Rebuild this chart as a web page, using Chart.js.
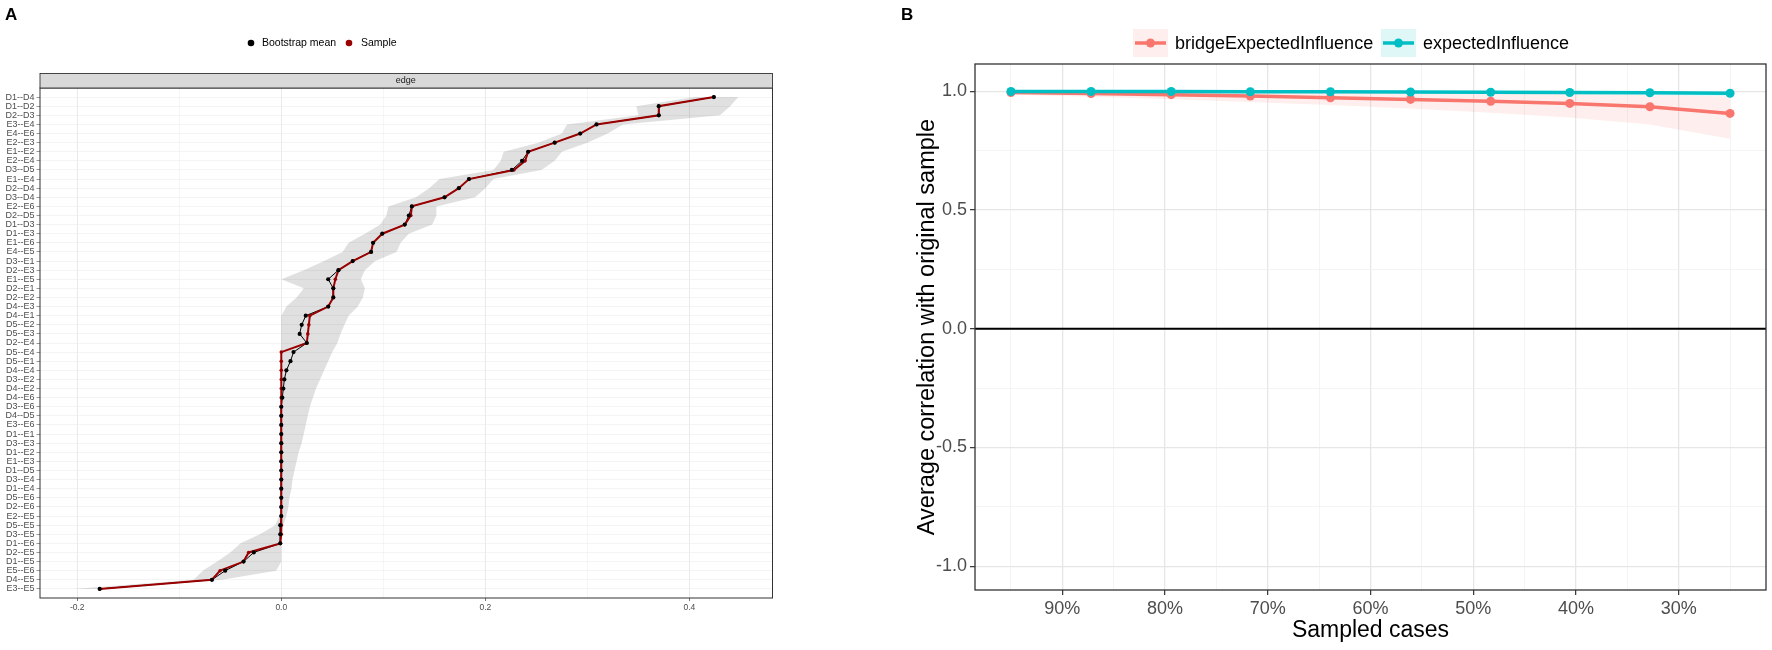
<!DOCTYPE html>
<html><head><meta charset="utf-8">
<script src="https://cdn.jsdelivr.net/npm/chart.js@4.4.1/dist/chart.umd.min.js"></script>
<style>
html,body{margin:0;padding:0;background:#fff;}
#wrap{position:relative;width:1772px;height:650px;overflow:hidden;background:#fff;}
#cA{position:absolute;left:0;top:0;}
#cB{position:absolute;left:880px;top:0;}
</style></head><body>
<div id="wrap">
<canvas id="cA" width="800" height="650"></canvas>
<canvas id="cB" width="892" height="650"></canvas>
</div>
<script>
// ---------- Panel A data ----------
const edges = ['D1--D4','D1--D2','D2--D3','E3--E4','E4--E6','E2--E3','E1--E2','E2--E4','D3--D5','E1--E4',
 'D2--D4','D3--D4','E2--E6','D2--D5','D1--D3','D1--E3','E1--E6','E4--E5','D3--E1','D2--E3',
 'E1--E5','D2--E1','D2--E2','D4--E3','D4--E1','D5--E2','D5--E3','D2--E4','D5--E4','D5--E1',
 'D4--E4','D3--E2','D4--E2','D4--E6','D3--E6','D4--D5','E3--E6','D1--E1','D3--E3','D1--E2',
 'E1--E3','D1--D5','D3--E4','D1--E4','D5--E6','D2--E6','E2--E5','D5--E5','D3--E5','D1--E6',
 'D2--E5','D1--E5','E5--E6','D4--E5','E3--E5'];
const sampleVals = [0.424,0.370,0.370,0.309,0.293,0.268,0.242,0.239,0.228,0.184,
 0.174,0.160,0.128,0.127,0.121,0.099,0.090,0.088,0.070,0.056,
 0.053,0.051,0.051,0.046,0.028,0.027,0.026,0.025,0,0,
 0,0,0,0,0,0,0,0,0,0,
 0,0,0,0,0,0,0,0,0,-0.001,
 -0.032,-0.037,-0.060,-0.068,-0.178];
const bootMean = [0.424,0.370,0.370,0.309,0.293,0.268,0.242,0.236,0.226,0.184,
 0.174,0.160,0.128,0.125,0.121,0.099,0.090,0.088,0.070,0.056,
 0.046,0.051,0.051,0.046,0.024,0.020,0.018,0.025,0.012,0.009,
 0.005,0.003,0.002,0.001,0,0,0,0,0,0,
 0,0,0,0,0,0,0,-0.001,-0.001,-0.001,
 -0.027,-0.037,-0.055,-0.068,-0.178];
const ciLower = [0.405,0.348,0.350,0.280,0.275,0.252,0.218,0.215,0.208,0.155,
 0.145,0.132,0.105,0.103,0.097,0.082,0.066,0.060,0.042,0.022,
 0.000,0.022,0.015,0.005,0,0,0,0,0,0,
 0,0,0,0,0,0,0,0,0,0,
 0,0,0,0,0,0,-0.002,-0.006,-0.021,-0.040,
 -0.050,-0.063,-0.077,-0.086,-0.204];
const ciUpper = [0.448,0.440,0.430,0.335,0.320,0.300,0.275,0.268,0.255,0.208,
 0.200,0.190,0.152,0.152,0.148,0.125,0.117,0.113,0.092,0.082,
 0.078,0.082,0.080,0.075,0.066,0.062,0.058,0.055,0.050,0.046,
 0.042,0.038,0.034,0.031,0.028,0.026,0.024,0.022,0.020,0.017,
 0.015,0.013,0.011,0.010,0.008,0.007,0.005,0.002,0,0,
 0,0,-0.005,-0.058,-0.170];
const edgeTickVals = [-0.2,-0.1,0,0.1,0.2,0.3,0.4];
const edgeTickLabels = ['-0.2','','0.0','','0.2','','0.4'];

// ---------- Panel B data ----------
const sampledPct = [95,87.2,79.4,71.7,63.9,56.1,48.3,40.6,32.8,25];
const bridgeEI   = [0.995,0.991,0.986,0.980,0.973,0.966,0.958,0.949,0.935,0.907];
const bridgeLo   = [0.985,0.977,0.967,0.955,0.942,0.928,0.910,0.890,0.860,0.800];
const bridgeHi   = [1.000,0.999,0.998,0.996,0.994,0.992,0.990,0.988,0.984,0.978];
const expInf     = [0.999,0.999,0.999,0.998,0.998,0.997,0.996,0.995,0.994,0.992];
const expLo      = [0.997,0.996,0.995,0.994,0.993,0.991,0.989,0.987,0.984,0.979];
const expHi      = [1.000,1.000,1.000,1.000,1.000,0.999,0.999,0.999,0.998,0.998];
const pctTickVals   = [95,90,85,80,75,70,65,60,55,50,45,40,35,30,25];
const pctTickLabels = ['','90%','','80%','','70%','','60%','','50%','','40%','','30%',''];
const corrTickVals   = [-1,-0.75,-0.5,-0.25,0,0.25,0.5,0.75,1];
const corrTickLabels = ['-1.0','','-0.5','','0.0','','0.5','','1.0'];
const seriesNames = ['bridgeExpectedInfluence','expectedInfluence'];
const leftLegendNames = ['Bootstrap mean','Sample'];

const RED = '#F8766D', TEAL = '#00BFC4', DARKRED = '#9b0000';
const FONT = "'Liberation Sans', Arial, sans-serif";

// ---------- Panel A ----------
const pts = arr => arr.map((v,i)=>({x:v,y:i}));
const leftDecor = {
  id:'leftDecor',
  afterDraw(chart){
    const {ctx, chartArea:a} = chart;
    ctx.save();
    ctx.strokeStyle='#333'; ctx.lineWidth=1;
    ctx.strokeRect(a.left+0.5, a.top, a.right-a.left, a.bottom-a.top);
    // strip
    const sh = 14.5;
    ctx.fillStyle='#d9d9d9';
    ctx.fillRect(a.left+0.5, a.top-sh, a.right-a.left, sh);
    ctx.lineWidth=0.9; ctx.strokeRect(a.left+0.5, a.top-sh, a.right-a.left, sh);
    ctx.fillStyle='#1a1a1a'; ctx.font='9px '+FONT; ctx.textAlign='center'; ctx.textBaseline='middle';
    ctx.fillText('edge',(a.left+a.right)/2, a.top-sh/2);
    // legend
    ctx.font='10.5px '+FONT; ctx.textAlign='left'; ctx.fillStyle='#000';
    const ly=43;
    ctx.beginPath(); ctx.arc(251,ly,3.3,0,Math.PI*2); ctx.fillStyle='#000'; ctx.fill();
    ctx.fillText(leftLegendNames[0],262,ly);
    ctx.beginPath(); ctx.arc(349,ly,3.3,0,Math.PI*2); ctx.fillStyle=DARKRED; ctx.fill();
    ctx.fillStyle='#000'; ctx.fillText(leftLegendNames[1],361,ly);
    // panel letter
    ctx.font='bold 17px '+FONT; ctx.fillText('A',5,15);
    ctx.restore();
  }
};
new Chart(document.getElementById('cA'),{
  type:'line',
  data:{datasets:[
    {data:pts(ciLower), fill:'+1', backgroundColor:'rgba(0,0,0,0.12)', borderWidth:0, pointRadius:0, order:5},
    {data:pts(ciUpper), fill:false, borderWidth:0, pointRadius:0, order:5},
    {data:pts(bootMean), borderColor:'#000', borderWidth:1, pointRadius:0, fill:false, order:3},
    {data:pts(sampleVals), borderColor:DARKRED, borderWidth:2, pointRadius:1.8, pointBackgroundColor:DARKRED, pointBorderWidth:0, fill:false, order:2},
    {data:pts(bootMean), showLine:false, pointRadius:2.1, pointBackgroundColor:'#000', pointBorderWidth:0, order:1}
  ]},
  options:{
    responsive:false, animation:false, indexAxis:'y',
    layout:{padding:{left:0,top:88,right:28,bottom:32}},
    plugins:{legend:{display:false}, tooltip:{enabled:false}},
    elements:{line:{tension:0}},
    scales:{
      x:{type:'linear', min:-0.237, max:0.481,
        afterBuildTicks(s){ s.ticks = edgeTickVals.map(v=>({value:v})); },
        afterFit(s){ s.height = 20; },
        ticks:{autoSkip:false, maxRotation:0, padding:2, color:'#4d4d4d', font:{size:8.5, family:FONT},
          callback:(v)=>{ const i = edgeTickVals.findIndex(t=>Math.abs(t-v)<1e-9); return i>=0?edgeTickLabels[i]:''; }},
        grid:{color:(c)=> (c.index%2===0?'#e4e4e4':'#f0f0f0'), lineWidth:(c)=>(c.index%2===0?0.8:0.6),
          tickLength:3, tickColor:(c)=>(c.index%2===0?'#555':'rgba(0,0,0,0)')},
        border:{display:false}
      },
      y:{type:'linear', min:-1, max:55, reverse:true,
        afterBuildTicks(s){ s.ticks = edges.map((_,i)=>({value:i})); },
        afterFit(s){ s.width = 39.5; },
        ticks:{autoSkip:false, padding:2, color:'#4d4d4d', font:{size:9, family:FONT},
          callback:(v)=> edges[v] ?? ''},
        grid:{color:'#ececec', lineWidth:0.6, tickLength:3, tickColor:'#555'},
        border:{display:false}
      }
    }
  },
  plugins:[leftDecor]
});

// ---------- Panel B ----------
const bpts = arr => arr.map((v,i)=>({x:sampledPct[i], y:v}));
const rightDecor = {
  id:'rightDecor',
  beforeDatasetsDraw(chart){
    const {ctx, chartArea:a, scales} = chart;
    const y0 = scales.y.getPixelForValue(0);
    ctx.save(); ctx.strokeStyle='#000'; ctx.lineWidth=2;
    ctx.beginPath(); ctx.moveTo(a.left,y0); ctx.lineTo(a.right,y0); ctx.stroke(); ctx.restore();
  },
  afterDraw(chart){
    const {ctx, chartArea:a} = chart;
    ctx.save();
    ctx.strokeStyle='#333'; ctx.lineWidth=1.3;
    ctx.strokeRect(a.left, a.top, a.right-a.left, a.bottom-a.top);
    // legend
    const keys = [{x:253, tx:295, c:RED, bg:'rgba(248,118,109,0.12)'},{x:501, tx:543, c:TEAL, bg:'rgba(0,191,196,0.12)'}];
    ctx.font='18px '+FONT; ctx.textBaseline='middle'; ctx.textAlign='left';
    keys.forEach((k,i)=>{
      ctx.fillStyle=k.bg; ctx.fillRect(k.x,29,35,28);
      ctx.strokeStyle=k.c; ctx.lineWidth=3.5;
      ctx.beginPath(); ctx.moveTo(k.x+2,43); ctx.lineTo(k.x+33,43); ctx.stroke();
      ctx.beginPath(); ctx.arc(k.x+17.5,43,4.5,0,Math.PI*2); ctx.fillStyle=k.c; ctx.fill();
      ctx.fillStyle='#000'; ctx.fillText(seriesNames[i],k.tx,44);
    });
    ctx.font='bold 17px '+FONT; ctx.fillStyle='#000';
    ctx.fillText('B',21,15);
    ctx.restore();
  }
};
const majorX = (v)=> Math.round(v)%10===0;
const majorY = (v)=> Math.abs(v*2-Math.round(v*2))<1e-9;
new Chart(document.getElementById('cB'),{
  type:'line',
  data:{datasets:[
    {data:bpts(bridgeLo), fill:'+1', backgroundColor:'rgba(248,118,109,0.12)', borderWidth:0, pointRadius:0, order:6},
    {data:bpts(bridgeHi), fill:false, borderWidth:0, pointRadius:0, order:6},
    {data:bpts(expLo), fill:'+1', backgroundColor:'rgba(0,191,196,0.12)', borderWidth:0, pointRadius:0, order:5},
    {data:bpts(expHi), fill:false, borderWidth:0, pointRadius:0, order:5},
    {label:seriesNames[0], data:bpts(bridgeEI), borderColor:RED, borderWidth:3.5, pointRadius:4.5, pointBackgroundColor:RED, pointBorderWidth:0, fill:false, order:2},
    {label:seriesNames[1], data:bpts(expInf), borderColor:TEAL, borderWidth:3.5, pointRadius:4.5, pointBackgroundColor:TEAL, pointBorderWidth:0, fill:false, order:1}
  ]},
  options:{
    responsive:false, animation:false,
    layout:{padding:{left:33,top:64,right:6,bottom:6}},
    plugins:{legend:{display:false}, tooltip:{enabled:false}},
    elements:{line:{tension:0}},
    scales:{
      x:{type:'linear', min:21.5, max:98.5, reverse:true,
        afterBuildTicks(s){ s.ticks = pctTickVals.map(v=>({value:v})); },
        afterFit(s){ s.height = 54; },
        title:{display:true, text:'Sampled cases', color:'#000', font:{size:23, family:FONT}, padding:0},
        ticks:{autoSkip:false, maxRotation:0, padding:3, color:'#4d4d4d', font:{size:18, family:FONT},
          callback:(v)=>{ const i=pctTickVals.indexOf(v); return i>=0?pctTickLabels[i]:''; }},
        grid:{color:(c)=>(majorX(c.tick.value)?'#e6e6e6':'#f1f1f1'), lineWidth:(c)=>(majorX(c.tick.value)?1.3:0.8),
          tickLength:5, tickWidth:1.2, tickColor:(c)=>(majorX(c.tick.value)?'#333':'rgba(0,0,0,0)')},
        border:{display:false}
      },
      y:{type:'linear', min:-1.1, max:1.115,
        afterBuildTicks(s){ s.ticks = corrTickVals.map(v=>({value:v})); },
        afterFit(s){ s.width = 62; },
        title:{display:true, text:'Average correlation with original sample', color:'#000', font:{size:23.5, family:FONT}, padding:0},
        ticks:{autoSkip:false, padding:3, color:'#4d4d4d', font:{size:18, family:FONT},
          callback:(v)=>{ const i=corrTickVals.indexOf(v); return i>=0?corrTickLabels[i]:''; }},
        grid:{color:(c)=>(majorY(c.tick.value)?'#e6e6e6':'#f1f1f1'), lineWidth:(c)=>(majorY(c.tick.value)?1.3:0.8),
          tickLength:5, tickWidth:1.2, tickColor:(c)=>(majorY(c.tick.value)?'#333':'rgba(0,0,0,0)')},
        border:{display:false}
      }
    }
  },
  plugins:[rightDecor]
});
</script>
</body></html>
